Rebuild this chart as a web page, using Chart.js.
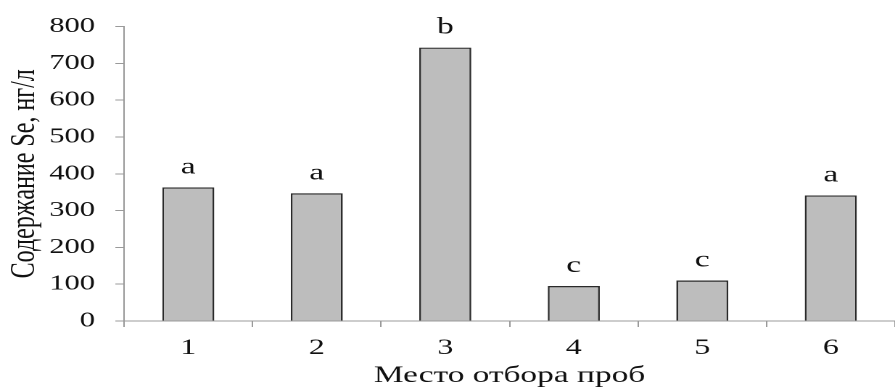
<!DOCTYPE html>
<html>
<head>
<meta charset="utf-8">
<script src="https://cdn.jsdelivr.net/npm/chart.js@4"></script>
<style>
  html, body { margin: 0; padding: 0; background: #fff; overflow: hidden; }
  #wrap { width: 617px; height: 392px; transform: scaleX(1.4506); transform-origin: 0 0; }
</style>
</head>
<body>
<div id="wrap"><canvas id="c"></canvas></div>
<script>
const categories = ['1', '2', '3', '4', '5', '6'];
const values = [363, 347, 743, 95, 110, 341];
const groupLetters = ['a', 'a', 'b', 'c', 'c', 'a'];
const yTicks = [0, 100, 200, 300, 400, 500, 600, 700, 800];
const yTitle = 'Содержание Se, нг/л';
const xTitle = 'Место отбора проб';

const FONT = "'Liberation Serif', 'Times New Roman', serif";

const letterPlugin = {
  id: 'letters',
  afterDatasetsDraw(chart) {
    const ctx = chart.ctx;
    const meta = chart.getDatasetMeta(0);
    ctx.save();
    ctx.font = '23px ' + FONT;
    ctx.fillStyle = '#111';
    ctx.textAlign = 'center';
    ctx.textBaseline = 'alphabetic';
    meta.data.forEach((bar, i) => {
      ctx.fillText(groupLetters[i], bar.x, bar.y - 14);
    });
    ctx.restore();
  }
};

new Chart(document.getElementById('c'), {
  type: 'bar',
  data: {
    labels: categories,
    datasets: [{
      data: values,
      backgroundColor: '#bdbdbd',
      borderColor: '#2a2a2a',
      borderWidth: 1.3,
      categoryPercentage: 1.0,
      barPercentage: 0.405
    }]
  },
  options: {
    responsive: true,
    maintainAspectRatio: false,
    animation: false,
    devicePixelRatio: 2,
    layout: { padding: { top: 23, right: 0, bottom: 0, left: 0 } },
    plugins: { legend: { display: false }, tooltip: { enabled: false } },
    scales: {
      x: {
        offset: true,
        grid: { display: true, offset: true, drawOnChartArea: false, drawTicks: true, tickLength: 6, color: '#9a9a9a', lineWidth: 1 },
        border: { display: true, color: '#9a9a9a', width: 1 },
        ticks: { color: '#111', font: { family: FONT, size: 22 }, padding: 8 },
        title: { display: true, text: xTitle, color: '#111', font: { family: FONT, size: 23 }, padding: { top: 0, bottom: 2 } },
        afterFit(s) { s.height = 71; }
      },
      y: {
        min: 0, max: 800,
        afterBuildTicks(s) { s.ticks = yTicks.map(v => ({ value: v })); },
        grid: { display: true, drawOnChartArea: false, drawTicks: true, tickLength: 6, color: '#9a9a9a', lineWidth: 1 },
        border: { display: true, color: '#9a9a9a', width: 1 },
        ticks: { color: '#111', font: { family: FONT, size: 21 }, padding: 14 },
        title: { display: true, text: yTitle, color: '#111', font: { family: FONT, size: 24 }, padding: { top: 3, bottom: 0 } },
        afterFit(s) { s.width = 85.5; }
      }
    }
  },
  plugins: [letterPlugin]
});
</script>
</body>
</html>
